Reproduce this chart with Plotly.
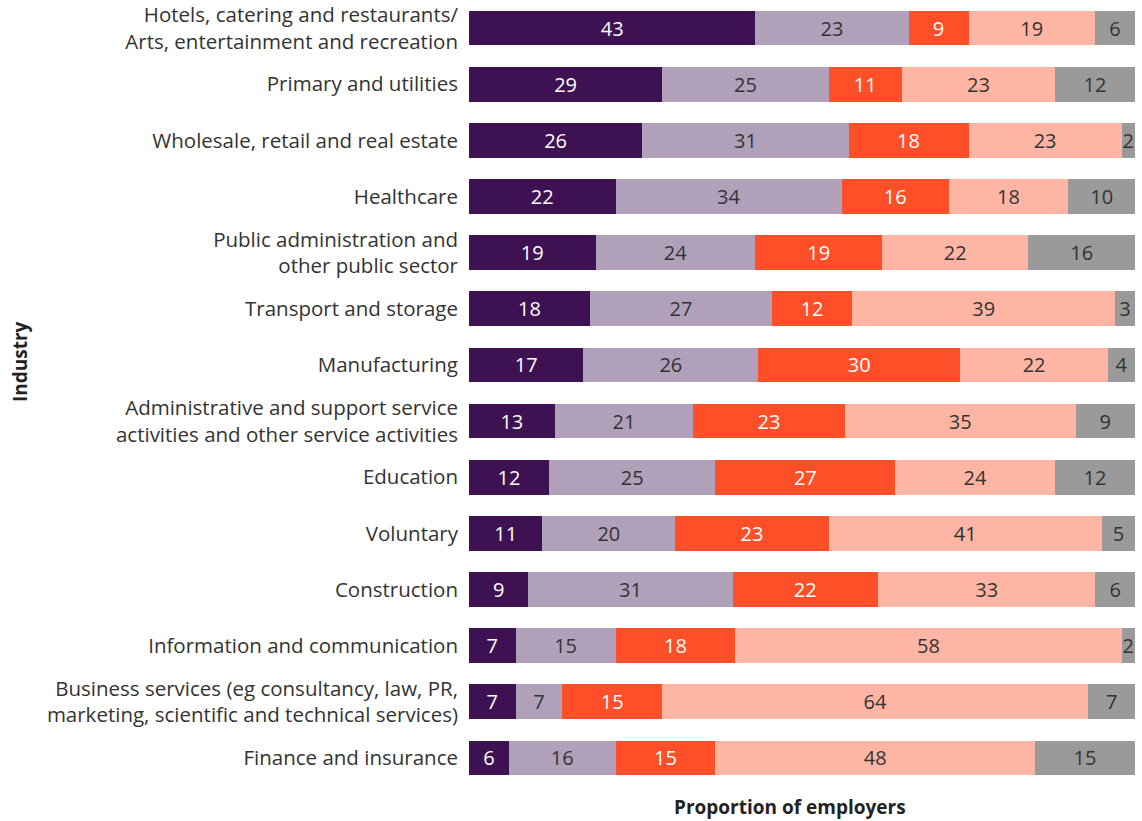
import plotly.graph_objects as go

industries = [
    "Hotels, catering and restaurants/<br>Arts, entertainment and recreation",
    "Primary and utilities",
    "Wholesale, retail and real estate",
    "Healthcare",
    "Public administration and<br>other public sector",
    "Transport and storage",
    "Manufacturing",
    "Administrative and support service<br>activities and other service activities",
    "Education",
    "Voluntary",
    "Construction",
    "Information and communication",
    "Business services (eg consultancy, law, PR,<br>marketing, scientific and technical services)",
    "Finance and insurance",
]

series_1 = [43, 29, 26, 22, 19, 18, 17, 13, 12, 11, 9, 7, 7, 6]
series_2 = [23, 25, 31, 34, 24, 27, 26, 21, 25, 20, 31, 15, 7, 16]
series_3 = [9, 11, 18, 16, 19, 12, 30, 23, 27, 23, 22, 18, 15, 15]
series_4 = [19, 23, 23, 18, 22, 39, 22, 35, 24, 41, 33, 58, 64, 48]
series_5 = [6, 12, 2, 10, 16, 3, 4, 9, 12, 5, 6, 2, 7, 15]

colors = ["#3d1152", "#b0a0ba", "#ff4f29", "#ffb5a4", "#9a9a9a"]
text_colors = ["#ffffff", "#333333", "#ffffff", "#333333", "#333333"]

FONT = "Open Sans"

fig = go.Figure()
for vals, col, tcol in zip(
    [series_1, series_2, series_3, series_4, series_5], colors, text_colors
):
    fig.add_trace(
        go.Bar(
            y=industries,
            x=vals,
            orientation="h",
            marker=dict(color=col, line=dict(width=0)),
            text=[str(v) for v in vals],
            textposition="inside",
            insidetextanchor="middle",
            textangle=0,
            constraintext="none",
            textfont=dict(family=FONT, size=20, color=tcol),
            showlegend=False,
            hoverinfo="skip",
        )
    )

fig.update_layout(
    width=1142,
    height=821,
    barmode="stack",
    barnorm="percent",
    bargap=0.38,
    plot_bgcolor="white",
    paper_bgcolor="white",
    margin=dict(l=469, r=7, t=0, b=35),
    font=dict(family=FONT, color="#333333"),
)

fig.update_xaxes(
    range=[0, 100],
    showticklabels=False,
    showgrid=False,
    zeroline=False,
    showline=False,
    ticks="",
)

fig.update_yaxes(
    autorange="reversed",
    showgrid=False,
    zeroline=False,
    showline=False,
    ticks="",
    ticklabelstandoff=10,
    tickfont=dict(family=FONT, size=20.5, color="#333333"),
)

PLOT_W = 1142 - 469 - 7
PLOT_H = 821 - 35

# Axis titles placed as annotations in pixel-derived paper coordinates
fig.add_annotation(
    text="<b>Industry</b>",
    textangle=-90,
    xref="paper",
    yref="paper",
    x=(20 - 469) / PLOT_W,
    y=(PLOT_H - 362) / PLOT_H,
    xanchor="center",
    yanchor="middle",
    showarrow=False,
    font=dict(family=FONT, size=19, color="#222222"),
)
fig.add_annotation(
    text="<b>Proportion of employers</b>",
    xref="paper",
    yref="paper",
    x=(790 - 469) / PLOT_W,
    y=(PLOT_H - 807) / PLOT_H,
    xanchor="center",
    yanchor="middle",
    showarrow=False,
    font=dict(family=FONT, size=19, color="#222222"),
)

fig.write_html("out.html")
